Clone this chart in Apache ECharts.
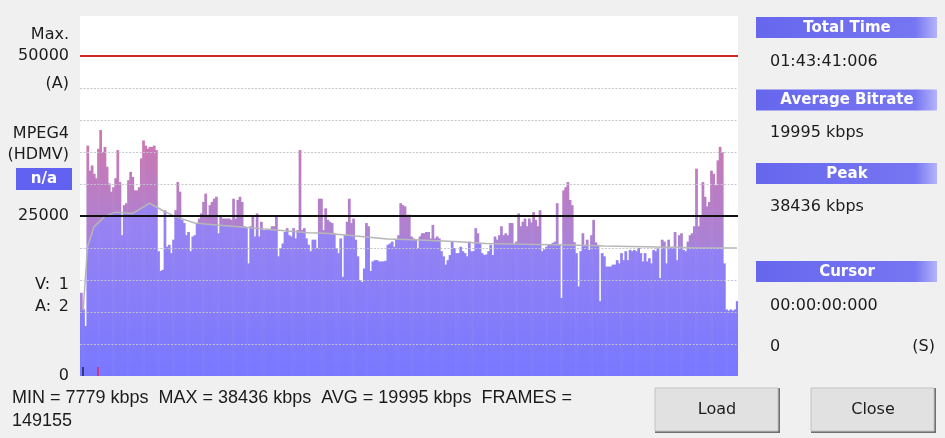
<!DOCTYPE html>
<html>
<head>
<meta charset="utf-8">
<script src="https://cdn.jsdelivr.net/npm/echarts@6/dist/echarts.min.js"></script>
<style>
  html, body { margin: 0; padding: 0; background: #f0f0f0; }
  #main { width: 945px; height: 438px; }
</style>
</head>
<body>
<div id="main"></div>
<script>
// bitrate per time slot (kbps), read left to right off the graph
var bitrate = [
  13000, 10500, 7800, 36000, 32100, 32900, 31600, 30900, 35500, 38436,
  35000, 35800, 32700, 30100, 28800, 29500, 30900, 35300, 30300, 22000,
  26700, 27000, 30600, 31900, 31100, 29000, 29000, 29500, 34000, 36800,
  36000, 35500, 35800, 35800, 36000, 35300, 19500, 16400, 16600, 25900,
  20200, 20500, 19200, 21300, 25900, 30300, 28800, 24400, 23900, 22000,
  22500, 19500, 21800, 22000, 23900, 24600, 25400, 27200, 28500, 25200,
  26700, 27200, 27700, 28000, 22300, 24900, 24600, 24600, 24600, 24600,
  24400, 27700, 24600, 27500, 28000, 27200, 23400, 23100, 17600, 23400,
  24900, 21800, 25400, 21800, 24100, 22800, 22800, 22800, 22800, 23400,
  23400, 24900, 18700, 20000, 20700, 22500, 23100, 22000, 21800, 23100,
  21500, 22800, 35300, 22800, 23100, 21500, 20500, 19500, 21300, 21300,
  20000, 27700, 27700,
  22800, 26200, 24400, 24100, 23900, 22300, 20000, 19200, 21500, 15500,
  22000, 24100, 27700, 23900, 24600, 21300, 18700, 15000, 14700, 16800,
  23900, 23400, 16400, 17900, 18100, 18100, 17900, 17900, 17900, 18000,
  20500, 20700, 21000, 20200, 21300, 22000, 27000, 26700, 26500, 25200,
  25200, 21800, 21500, 21300, 20000, 21800, 22300, 22300, 22500, 22500,
  21500, 23600, 21500, 21800, 21500, 19500, 18700, 17400, 18100, 18900,
  21000, 20000, 19200, 19200, 20200, 19500, 19200, 18700, 21000, 19500,
  19500, 23100, 22300, 20700, 19200, 18900, 19000, 19500, 20500, 18900,
  21800, 21300, 22000, 23400, 22000, 22300, 22000, 23900, 23900, 20700,
  21000, 25400, 23400, 24100, 24600, 23400, 24600, 24000, 25600, 24400,
  23400, 25900, 19500, 19800, 20200, 20500, 20500, 20800, 21000, 27000,
  20500, 12200, 29000, 29500,
  30300, 27500, 26700, 20900, 19200, 14000, 19500, 22300, 20500, 21300,
  19700, 22000, 24400, 20900, 20500, 11700, 19200, 18700, 17100, 17100,
  17100, 17400, 17400, 18100, 17600, 19200, 18100, 19500, 18100, 19700,
  19500, 19700, 19500, 20000, 19200, 17900, 19200, 17900, 18400, 17600,
  19700, 19500, 20000, 15300, 21300, 21000, 17600, 21300, 20000, 20200,
  22500, 18100, 22000, 22300, 19700, 19500, 21000, 22000, 22300, 23400,
  32400, 23400, 24900, 30300, 28000, 26500, 27200, 32100, 31600, 29800,
  33700, 35800, 35000, 17600, 10400, 10200, 10400, 10200, 10400, 11700
];

// running average (grey line), read at a few slots
var avgSlot = [1, 3, 6, 11, 16, 24, 28, 32, 34, 39, 44, 53, 63, 75, 91, 106, 114,
  127, 143, 158, 174, 189, 205, 228, 244, 263, 286, 306];
var avgKbps = [10300, 20200, 23300, 24900, 25600, 25400, 26200, 27000, 26600, 25700,
  24900, 23900, 23600, 23300, 22800, 22400, 22300, 21900, 21400, 21250, 21000,
  20700, 20600, 20450, 20300, 20200, 20050, 19995];

var gridValues = [5000, 10000, 15000, 20000, 30000, 35000, 40000, 45000];
var maxLine = 50000;
var refLine = 25000;
var axisTicks = [0, 25000, 50000];
var cursorSlots = [1, 8];

var slots = bitrate.map(function (v, i) { return i; });

// avg at a slot, only used to split bar colour
function avgAt(i) {
  if (i <= avgSlot[0]) return avgKbps[0];
  for (var k = 1; k < avgSlot.length; k++) {
    if (i <= avgSlot[k]) {
      var t = (i - avgSlot[k - 1]) / (avgSlot[k] - avgSlot[k - 1]);
      return avgKbps[k - 1] + t * (avgKbps[k] - avgKbps[k - 1]);
    }
  }
  return avgKbps[avgKbps.length - 1];
}

function renderBar(params, api) {
  var i = api.value(0);
  var v = api.value(1);
  var a = avgAt(i);
  var base = api.coord([i, 0]);
  var top = api.coord([i, v]);
  var mid = api.coord([i, Math.min(v, a)]);
  var w = api.size([1, 0])[0];
  var x = base[0] - w / 2;
  var blue = new echarts.graphic.LinearGradient(0, api.coord([0, 27000])[1], 0, base[1], [
    { offset: 0, color: '#9c84f0' },
    { offset: 1, color: '#7878ff' }
  ], true);
  var pink = new echarts.graphic.LinearGradient(0, api.coord([0, 38000])[1], 0, api.coord([0, 20000])[1], [
    { offset: 0, color: '#cd78ae' },
    { offset: 1, color: '#a882d8' }
  ], true);
  var kids = [{
    type: 'rect',
    shape: { x: x, y: mid[1], width: w + 0.6, height: base[1] - mid[1] },
    style: { fill: blue }
  }];
  if (v > a) {
    kids.push({
      type: 'rect',
      shape: { x: x, y: top[1], width: w + 0.6, height: mid[1] - top[1] },
      style: { fill: pink }
    });
  }
  return { type: 'group', children: kids };
}

var FONT = '16px "DejaVu Sans"';
var INK = '#1c1c1c';

function txt(s, x, y, align, font, color) {
  return {
    type: 'text',
    style: {
      text: s, x: x, y: y,
      textAlign: align || 'left', textVerticalAlign: 'middle',
      font: font || FONT, fill: color || INK
    }
  };
}

function header(s, y) {
  return {
    type: 'group',
    children: [
      {
        type: 'rect',
        shape: { x: 756, y: y, width: 181, height: 21 },
        style: {
          fill: new echarts.graphic.LinearGradient(0, 0, 1, 0, [
            { offset: 0, color: '#6767ee' },
            { offset: 0.88, color: '#7676f2' },
            { offset: 1, color: '#b4b4fa' }
          ])
        }
      },
      txt(s, 847, y + 11, 'center', 'bold 15px "DejaVu Sans"', '#ffffff')
    ]
  };
}

function button(s, x) {
  return {
    type: 'group',
    children: [
      { type: 'rect', shape: { x: x, y: 388, width: 125, height: 45 }, style: { fill: '#707070' } },
      { type: 'rect', shape: { x: x, y: 388, width: 123, height: 43 }, style: { fill: '#e1e1e1', stroke: '#c4c4c4', lineWidth: 1 } },
      txt(s, x + 62, 410, 'center')
    ]
  };
}

var myChart = echarts.init(document.getElementById('main'));

var gridMarks = gridValues.map(function (g) { return { yAxis: g }; });
var limitMarks = [
  { yAxis: maxLine, lineStyle: { color: '#cc2626', width: 2, type: 'solid' } },
  { yAxis: refLine, lineStyle: { color: '#111111', width: 2, type: 'solid' } }
];
var cursorMarks = cursorSlots.map(function (s, k) {
  return [
    { coord: [s, 0], lineStyle: { color: k === 0 ? '#1b1b6e' : '#e0245a', width: 1.5, type: 'solid' } },
    { coord: [s, 1400] }
  ];
});

var option = {
  backgroundColor: '#f0f0f0',
  animation: false,
  grid: {
    show: true,
    left: 80,
    right: 207,
    top: 16,
    bottom: 62,
    backgroundColor: '#ffffff',
    borderWidth: 0
  },
  xAxis: {
    type: 'category',
    data: slots,
    boundaryGap: true,
    axisLine: { show: false },
    axisTick: { show: false },
    axisLabel: { show: false },
    splitLine: { show: false }
  },
  yAxis: {
    type: 'value',
    min: 0,
    max: 56250,
    interval: 5000,
    axisLine: { show: false },
    axisTick: { show: false },
    splitLine: { show: false },
    axisLabel: {
      margin: 11,
      fontFamily: 'DejaVu Sans',
      fontSize: 16,
      color: INK,
      formatter: function (v) {
        return axisTicks.indexOf(v) >= 0 ? String(v) : '';
      }
    }
  },
  series: [
    {
      type: 'custom',
      renderItem: renderBar,
      data: bitrate.map(function (v, i) { return [i, v]; }),
      encode: { x: 0, y: 1 },
      clip: true,
      z: 2
    },
    {
      type: 'line',
      data: avgSlot.map(function (s, k) { return [s, avgKbps[k]]; }),
      symbol: 'none',
      lineStyle: { color: '#b6b6b6', width: 1.5 },
      z: 4,
      markLine: {
        silent: true,
        symbol: 'none',
        label: { show: false },
        lineStyle: { color: 'rgba(196,196,204,0.95)', width: 1, type: [2, 1.5] },
        data: gridMarks.concat(limitMarks).concat(cursorMarks)
      }
    }
  ],
  graphic: [
    txt('Max.', 69, 35, 'right'),
    txt('(A)', 69, 84, 'right'),
    txt('MPEG4', 69, 134, 'right'),
    txt('(HDMV)', 69, 155, 'right'),
    { type: 'rect', shape: { x: 16, y: 168, width: 56, height: 22 }, style: { fill: '#6262f2' } },
    txt('n/a', 44, 179, 'center', 'bold 15px "DejaVu Sans"', '#ffffff'),
    txt('V:', 35, 285, 'left'),
    txt('1', 69, 285, 'right'),
    txt('A:', 35, 307, 'left'),
    txt('2', 69, 307, 'right'),
    txt('MIN = 7779 kbps  MAX = 38436 kbps  AVG = 19995 kbps  FRAMES =', 12, 398, 'left', '18px "Liberation Sans"'),
    txt('149155', 12, 421, 'left', '18px "Liberation Sans"'),
    header('Total Time', 17),
    txt('01:43:41:006', 770, 62),
    header('Average Bitrate', 89.5),
    txt('19995 kbps', 770, 133),
    header('Peak', 163),
    txt('38436 kbps', 770, 207),
    header('Cursor', 261),
    txt('00:00:00:000', 770, 306),
    txt('0', 770, 347),
    txt('(S)', 935, 347, 'right'),
    button('Load', 655),
    button('Close', 811)
  ]
};

myChart.setOption(option);
</script>
</body>
</html>
